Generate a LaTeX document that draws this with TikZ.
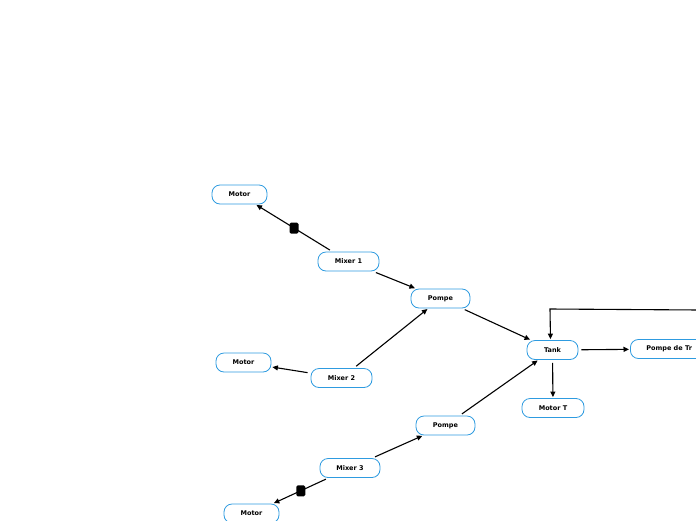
\documentclass[tikz,border=0pt]{standalone}
\usepackage{fontspec}
\setmainfont{DejaVu Sans}
\usetikzlibrary{arrows.meta,calc}
\definecolor{nodeblue}{HTML}{2E9BE0}
\tikzset{
  box/.style={draw=nodeblue, line width=0.8pt, rounded corners=8pt, fill=white,
    minimum height=19pt, inner sep=0pt, font=\fontsize{6.5}{7}\selectfont\bfseries},
  conn/.style={line width=1.1pt, -{Triangle[length=5.5pt,width=5pt]}, shorten <=3pt, shorten >=1pt},
  sq/.style={fill=black, rounded corners=1.5pt, minimum width=9pt, minimum height=11pt, inner sep=0pt}
}
\begin{document}
\begin{tikzpicture}[x=1pt,y=-1pt]
\useasboundingbox (0,0) rectangle (696,520);
\node[box, minimum width=55pt] (motor1) at (239.5,194.5) {Motor};
\node[box, minimum width=61pt] (mixer1) at (348.5,261.5) {Mixer 1};
\node[box, minimum width=59pt] (pompe1) at (440.5,298.5) {Pompe};
\node[box, minimum width=55pt] (motor2) at (243.5,362.5) {Motor};
\node[box, minimum width=61pt] (mixer2) at (341.5,378) {Mixer 2};
\node[box, minimum width=51pt] (tank) at (552.5,350) {Tank};
\node[box, anchor=west, inner xsep=16pt] (ptr) at (630,349) {Pompe de Tr};
\node[box, minimum width=62pt] (motorT) at (553,408) {Motor T};
\node[box, minimum width=59pt] (pompe2) at (445.5,425.5) {Pompe};
\node[box, minimum width=60pt] (mixer3) at (350,468) {Mixer 3};
\node[box, minimum width=55pt] (motor3) at (251.5,513.5) {Motor};
\coordinate (redge) at (700,310);

\draw[conn] (mixer1) -- (motor1);
\node[sq] (sq1) at ($(mixer1)!0.5!(motor1)$) {};
\draw[conn] (mixer1) -- (pompe1);
\draw[conn] (mixer2) -- (pompe1);
\draw[conn] (mixer2) -- (motor2);
\draw[conn] (pompe1) -- (tank);
\draw[conn] (pompe2) -- (tank);
\draw[conn] (tank) -- (ptr);
\draw[conn] (tank) -- (motorT);
\draw[conn] (mixer3) -- (pompe2);
\draw[conn] (mixer3) -- (motor3);
\node[sq] (sq2) at ($(mixer3)!0.5!(motor3)$) {};
\draw[line width=1.1pt, -{Triangle[length=5.5pt,width=5pt]}, shorten >=1pt] (redge) -- (550,309) -- ([xshift=-2pt]tank.north);
\end{tikzpicture}
\end{document}
